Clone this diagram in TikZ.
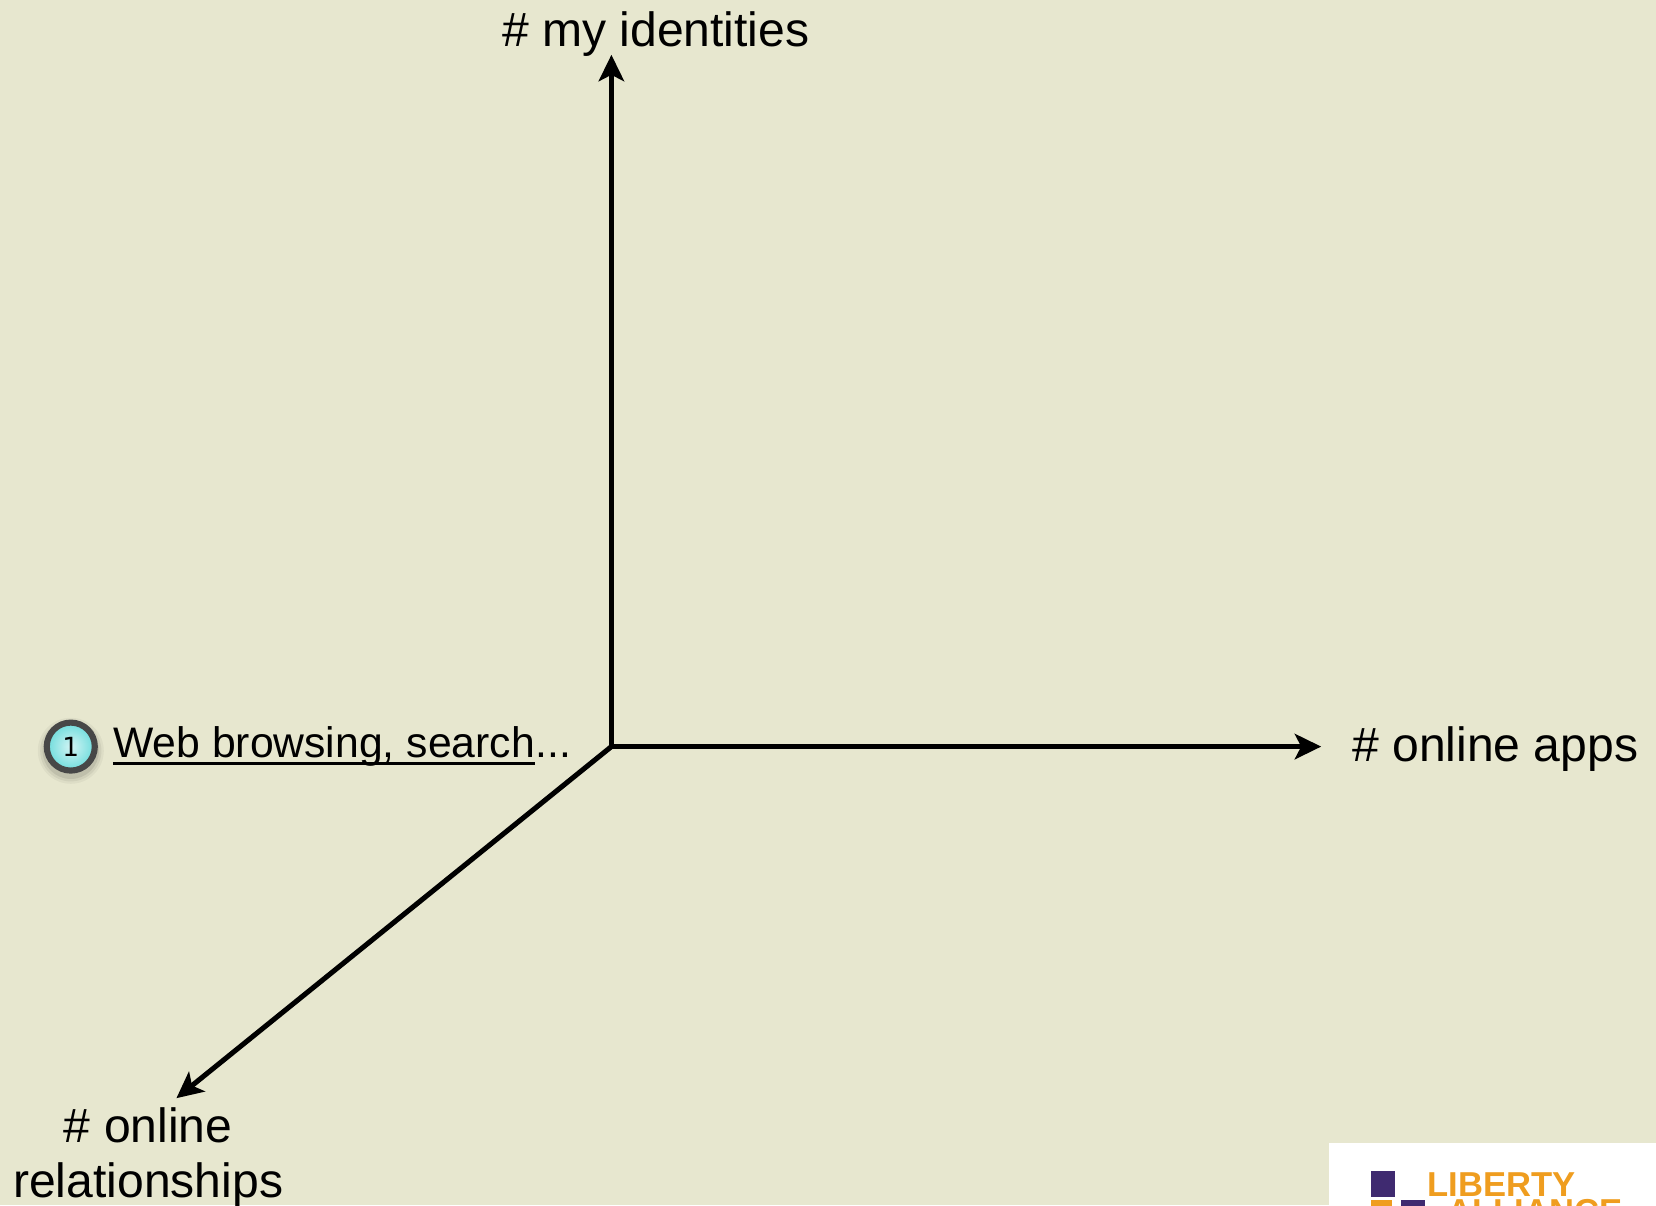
\documentclass[tikz,border=0pt]{standalone}
\usepackage{fontspec}
\setmainfont{Liberation Sans}
\newfontfamily\badgefont{DejaVu Sans}
\usetikzlibrary{arrows.meta}
\definecolor{panelbg}{HTML}{E7E7CF}
\definecolor{logopurple}{HTML}{3F2A70}
\definecolor{logoorange}{HTML}{EF9D1F}
\definecolor{badgerim}{HTML}{474747}
\definecolor{badgeaqua}{HTML}{6EDCDC}
\tikzset{
  axis/.style={-{Stealth[length=12.5pt,width=12pt,inset=3pt]}, draw=black, line width=2.4pt},
  axislabel/.style={black, inner sep=0pt, font=\fontsize{22.8}{27}\selectfont},
  itemlabel/.style={black, inner sep=0pt, anchor=base west, font=\fontsize{20.25}{24}\selectfont},
  itemline/.style={draw=black, line width=1.2pt},
  badge/.style={circle, draw=badgerim, line width=2.9pt, minimum size=0.8cm, inner sep=0pt,
    inner color=badgeaqua!30!white, outer color=badgeaqua, font=\badgefont\fontsize{12.5}{14}\selectfont},
  logotext/.style={logoorange, inner sep=0pt, anchor=base west, font=\bfseries\fontsize{16.4}{18}\selectfont}
}
\begin{document}
\begin{tikzpicture}
  \useasboundingbox (0,0) rectangle (27.6,20.0833);
  \clip (0,0) rectangle (27.6,20.0833);
  \fill[panelbg] (0,0) rectangle (27.6,20.0833);
  \coordinate (orig) at (10.19,7.64);
  \coordinate (up) at (10.19,19.17);
  \coordinate (right) at (22.02,7.64);
  \coordinate (down) at (2.94,1.78);
  \draw[axis] (orig)--(up);
  \draw[axis] (orig)--(right);
  \draw[axis] (orig)--(down);
  \node[axislabel, anchor=base] (identities) at (10.93,19.305) {\# my identities};
  \node[axislabel, anchor=base west] (apps) at (22.53,7.385) {\# online apps};
  \node[axislabel, anchor=base] (rel) at (2.47,1.04) {\# online};
  \node[axislabel, anchor=base] (rel2) at (2.47,0.12) {relationships};
  % soft shadow under the badge
  \foreach \r/\o in {0.55/0.04,0.51/0.06,0.47/0.08}
    \fill[black, opacity=\o] (1.18,7.57) circle (\r);
  \node[badge] (one) at (1.18,7.64) {1};
  \node[itemlabel] (web) at (1.88,7.45) {Web browsing, search};
  \node[itemlabel] (dots) at (web.base east) {...};
  \draw[itemline] ([yshift=-2.5pt]web.base west)--([yshift=-2.5pt]web.base east);
  % logo, cut off by the page edge
  \fill[white] (22.15,0) rectangle (27.6,1.033);
  \fill[logopurple] (22.85,0.133) rectangle (23.25,0.567);
  \fill[logoorange] (22.85,-0.3) rectangle (23.2,0.083);
  \fill[logopurple] (23.35,-0.3) rectangle (23.75,0.083);
  \node[logotext] (liberty) at (23.79,0.15) {LIBERTY};
  \node[logotext] (alliance) at (24.12,-0.30) {ALLIANCE};
\end{tikzpicture}
\end{document}
